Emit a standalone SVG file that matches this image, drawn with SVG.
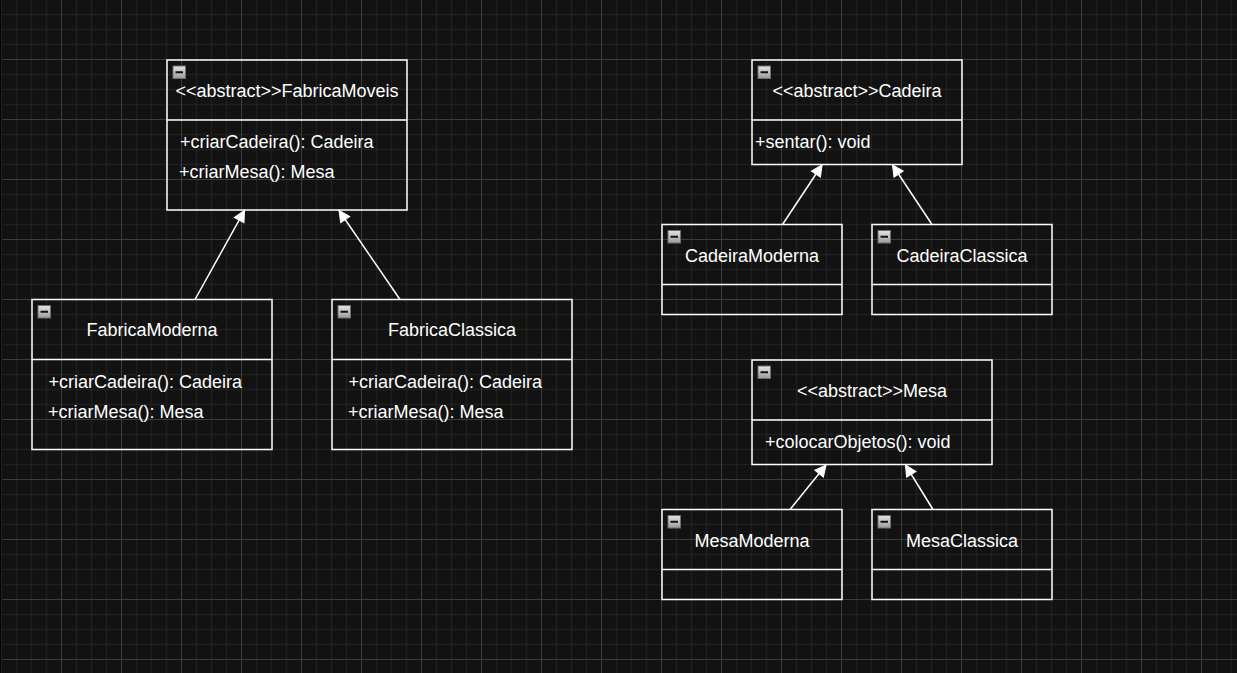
<svg xmlns="http://www.w3.org/2000/svg" width="1237" height="673" viewBox="0 0 1237 673">
  <defs>
    <pattern id="grid" x="1" y="-1" width="60" height="60" patternUnits="userSpaceOnUse">
      <path d="M15.5 0V60M30.5 0V60M45.5 0V60M0 15.5H60M0 30.5H60M0 45.5H60" stroke="#1f1f1f" stroke-width="1.5" fill="none"/>
      <path d="M0.5 0V60M0 0.5H60" stroke="#3c3c3c" stroke-width="1" fill="none"/>
    </pattern>
    <linearGradient id="iconGrad" x1="0" y1="0" x2="0" y2="1">
      <stop offset="0" stop-color="#e6e6e6"/>
      <stop offset="1" stop-color="#9a9a9a"/>
    </linearGradient>
    <symbol id="collapse" overflow="visible">
      <rect x="0.5" y="0.5" width="12.5" height="12.5" fill="url(#iconGrad)" stroke="#6e6e6e" stroke-width="1"/>
      <path d="M3 6.75H10.5" stroke="#111" stroke-width="2"/>
    </symbol>
    <marker id="block" markerUnits="userSpaceOnUse" markerWidth="12" markerHeight="12" refX="11" refY="6" orient="auto" overflow="visible">
      <path d="M0 0.5L11 6L0 11.5Z" fill="#ffffff" stroke="#ffffff" stroke-width="1"/>
    </marker>
    <style>
      .box { fill: none; stroke: #ffffff; stroke-width: 1.5; }
      .sep { stroke: #ffffff; stroke-width: 1.5; }
      .t { font-family: "Liberation Sans", Arial, sans-serif; font-size: 18px; fill: #ffffff; }
      .c { text-anchor: middle; }
      .edge { stroke: #ffffff; stroke-width: 1.5; fill: none; marker-end: url(#block); }
    </style>
  </defs>
  <rect x="0" y="0" width="1237" height="673" fill="#121212"/>
  <rect x="0" y="0" width="1237" height="673" fill="url(#grid)"/>
  <rect x="0" y="0" width="1.5" height="673" fill="#050505"/>

  <g id="connectors">
    <path class="edge" d="M195 299.5L244.5 210.5"/>
    <path class="edge" d="M400 299.5L339 210.5"/>
    <path class="edge" d="M782.5 224.5L822 165"/>
    <path class="edge" d="M932 224.5L892.5 165"/>
    <path class="edge" d="M790 509.5L826 465"/>
    <path class="edge" d="M933 509.5L905.5 465"/>
  </g>

  <g id="FabricaMoveis">
    <rect class="box" x="167" y="60" width="240" height="150"/>
    <line class="sep" x1="167" y1="120" x2="407" y2="120"/>
    <use href="#collapse" x="172.5" y="65.5"/>
    <text class="t c" x="287" y="96.5">&lt;&lt;abstract&gt;&gt;FabricaMoveis</text>
    <text class="t" x="180" y="148">+criarCadeira(): Cadeira</text>
    <text class="t" x="179" y="178">+criarMesa(): Mesa</text>
  </g>

  <g id="FabricaModerna">
    <rect class="box" x="32" y="299.5" width="240" height="150"/>
    <line class="sep" x1="32" y1="359.5" x2="272" y2="359.5"/>
    <use href="#collapse" x="37.5" y="305"/>
    <text class="t c" x="152" y="336">FabricaModerna</text>
    <text class="t" x="48.5" y="388">+criarCadeira(): Cadeira</text>
    <text class="t" x="48" y="418">+criarMesa(): Mesa</text>
  </g>

  <g id="FabricaClassica">
    <rect class="box" x="332" y="299.5" width="240" height="150"/>
    <line class="sep" x1="332" y1="359.5" x2="572" y2="359.5"/>
    <use href="#collapse" x="337.5" y="305"/>
    <text class="t c" x="452" y="336">FabricaClassica</text>
    <text class="t" x="348.5" y="388">+criarCadeira(): Cadeira</text>
    <text class="t" x="348" y="418">+criarMesa(): Mesa</text>
  </g>

  <g id="Cadeira">
    <rect class="box" x="752" y="60" width="210" height="104.5"/>
    <line class="sep" x1="752" y1="120" x2="962" y2="120"/>
    <use href="#collapse" x="757.5" y="65.5"/>
    <text class="t c" x="857" y="96.5">&lt;&lt;abstract&gt;&gt;Cadeira</text>
    <text class="t" x="755" y="148">+sentar(): void</text>
  </g>

  <g id="CadeiraModerna">
    <rect class="box" x="662" y="224.5" width="180" height="90"/>
    <line class="sep" x1="662" y1="284.5" x2="842" y2="284.5"/>
    <use href="#collapse" x="667.5" y="230"/>
    <text class="t c" x="752" y="261.5">CadeiraModerna</text>
  </g>

  <g id="CadeiraClassica">
    <rect class="box" x="872" y="224.5" width="180" height="90"/>
    <line class="sep" x1="872" y1="284.5" x2="1052" y2="284.5"/>
    <use href="#collapse" x="877.5" y="230"/>
    <text class="t c" x="962" y="261.5">CadeiraClassica</text>
  </g>

  <g id="Mesa">
    <rect class="box" x="752" y="360" width="240" height="104.5"/>
    <line class="sep" x1="752" y1="420" x2="992" y2="420"/>
    <use href="#collapse" x="757.5" y="365.5"/>
    <text class="t c" x="872" y="396.5">&lt;&lt;abstract&gt;&gt;Mesa</text>
    <text class="t" x="765" y="448">+colocarObjetos(): void</text>
  </g>

  <g id="MesaModerna">
    <rect class="box" x="662" y="509.5" width="180" height="90"/>
    <line class="sep" x1="662" y1="569.5" x2="842" y2="569.5"/>
    <use href="#collapse" x="667.5" y="515"/>
    <text class="t c" x="752" y="546.5">MesaModerna</text>
  </g>

  <g id="MesaClassica">
    <rect class="box" x="872" y="509.5" width="180" height="90"/>
    <line class="sep" x1="872" y1="569.5" x2="1052" y2="569.5"/>
    <use href="#collapse" x="877.5" y="515"/>
    <text class="t c" x="962" y="546.5">MesaClassica</text>
  </g>
</svg>
